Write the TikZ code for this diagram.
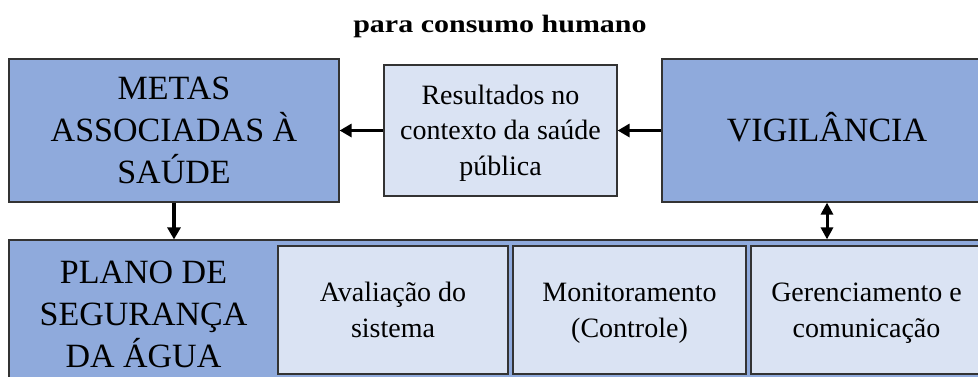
\documentclass[tikz,border=0pt]{standalone}
\usepackage{fontspec}
\setmainfont{Liberation Serif}
\usetikzlibrary{arrows.meta}
\definecolor{dkblue}{HTML}{8FAADC}
\definecolor{ltblue}{HTML}{DAE3F3}
\definecolor{edgecol}{HTML}{333333}
\newcommand\ws{\rule[-0.216em]{0pt}{1.107em}}
\tikzset{
 darkbox/.style={draw=edgecol, fill=dkblue, line width=1.2pt, inner sep=0pt},
 lightbox/.style={draw=edgecol, fill=ltblue, line width=1.2pt, inner sep=0pt},
 bigtxt/.style={font=\fontsize{34}{42}\selectfont, align=center, text=black},
 smalltxt/.style={font=\fontsize{28}{35.5}\selectfont, align=center, text=black},
 conn/.style={line width=3.4pt, draw=black, -{Triangle[length=12pt,width=13pt]}},
 dconn/.style={line width=3pt, draw=black, {Triangle[length=12pt,width=12pt]}-{Triangle[length=12pt,width=12pt]}},
}
\begin{document}
\begin{tikzpicture}[x=1pt,y=-1pt]
\useasboundingbox (0,0) rectangle (978,376);
\clip (0,0) rectangle (978,376);
\fill[white] (0,0) rectangle (978,376);
\node[anchor=base, inner sep=0pt] (title) at (500,32.5) {\scalebox{1.2}[1]{\fontsize{25}{28}\selectfont\bfseries para consumo humano}};

\node[darkbox, bigtxt, minimum width=330pt, minimum height=143pt] (metas) at (174,130.5) {\ws METAS\\ \ws ASSOCIADAS À\\ \ws SAÚDE};
\node[lightbox, smalltxt, minimum width=233pt, minimum height=131pt] (res) at (500.5,130.5) {\ws Resultados no\\ \ws contexto da saúde\\ \ws pública};
\node[darkbox, bigtxt, minimum width=330pt, minimum height=143pt] (vig) at (827,130.5) {\ws VIGILÂNCIA};

\node[darkbox, minimum width=983pt, minimum height=149pt] (psa) at (500.5,314.5) {};
\node[bigtxt, inner sep=0pt] (psat) at (143.5,314.5) {\ws PLANO DE\\ \ws SEGURANÇA\\ \ws DA ÁGUA};
\node[lightbox, smalltxt, minimum width=230pt, minimum height=128pt] (aval) at (393,310) {\ws Avaliação do\\ \ws sistema};
\node[lightbox, smalltxt, minimum width=233pt, minimum height=128pt] (mon) at (629.5,310) {\ws Monitoramento\\ \ws (Controle)};
\node[lightbox, smalltxt, minimum width=231pt, minimum height=128pt] (ger) at (866.5,310) {\ws Gerenciamento e\\ \ws comunicação};

\draw[conn] (res.west) -- (metas.east);
\draw[conn] (vig.west) -- (res.east);
\draw[conn] (metas.south) -- (metas.south |- psa.north);
\draw[dconn] (vig.south) -- (vig.south |- psa.north);
\end{tikzpicture}
\end{document}
